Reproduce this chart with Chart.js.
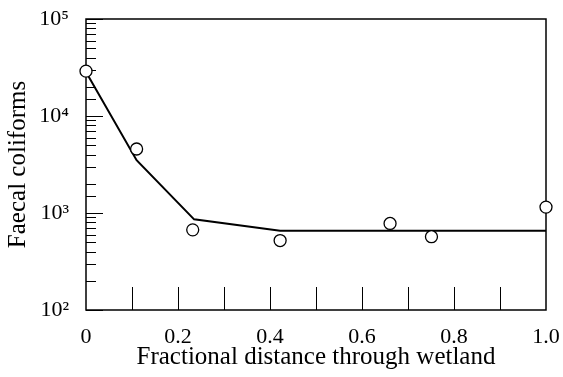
<!DOCTYPE html>
<html>
<head>
<meta charset="utf-8">
<script src="https://cdn.jsdelivr.net/npm/chart.js@4"></script>
<style>
  body { margin: 0; background: #fff; }
  #wrap { width: 563px; height: 377px; position: relative; }
</style>
</head>
<body>
<div id="wrap"><canvas id="wetland-chart"></canvas></div>
<script>
/* ============================================= */
/*                   Data                        */
/* ============================================= */
const distance = [0, 0.11, 0.232, 0.422, 0.661, 0.751, 1.0];
const coliforms = [29000, 4570, 670, 520, 780, 570, 1150];

const fitDistance = [0, 0.11, 0.235, 0.422, 1.0];
const fitColiforms = [28500, 3500, 860, 655, 655];

const xLabels = ["0", "0.2", "0.4", "0.6", "0.8", "1.0"];
const supers = { 2: "\u00B2", 3: "\u00B3", 4: "\u2074", 5: "\u2075" };

const serif = "'Liberation Serif', 'DejaVu Serif', serif";

/* ============================================= */
/*          Inward ticks + box frame             */
/* ============================================= */
const frameTicks = {
  id: "frameTicks",
  beforeDatasetsDraw(chart) {
    const { ctx, chartArea: a, scales } = chart;
    ctx.save();
    ctx.strokeStyle = "#000";
    ctx.lineWidth = 1.5;
    ctx.strokeRect(a.left, a.top, a.right - a.left, a.bottom - a.top);
    ctx.lineWidth = 1;
    ctx.beginPath();
    scales.x.ticks.forEach((t) => {
      if (t.value > 0.001 && t.value < 0.999) {
        const px = Math.round(scales.x.getPixelForValue(t.value)) + 0.5;
        ctx.moveTo(px, a.bottom);
        ctx.lineTo(px, a.bottom - 23);
      }
    });
    scales.y.ticks.forEach((t) => {
      const lg = Math.log10(t.value);
      const major = Math.abs(lg - Math.round(lg)) < 1e-6;
      const py = Math.round(scales.y.getPixelForValue(t.value)) + 0.5;
      ctx.moveTo(a.left, py);
      ctx.lineTo(a.left + (major ? 17 : 10), py);
    });
    ctx.stroke();
    ctx.restore();
  },
};

/* ============================================= */
/*                   Chart                       */
/* ============================================= */
const wetlandChart = new Chart(document.querySelector("#wetland-chart"), {
  type: "scatter",
  data: {
    datasets: [
      {
        label: "Observed",
        data: distance.map((d, i) => ({ x: d, y: coliforms[i] })),
        pointStyle: "circle",
        pointRadius: 6,
        pointBorderWidth: 1.3,
        pointBorderColor: "#000",
        pointBackgroundColor: "#fff",
        showLine: false,
        clip: false,
        order: 0,
      },
      {
        label: "Fit",
        data: fitDistance.map((d, i) => ({ x: d, y: fitColiforms[i] })),
        showLine: true,
        borderColor: "#000",
        borderWidth: 2,
        pointRadius: 0,
        tension: 0,
        clip: false,
        order: 1,
      },
    ],
  },
  options: {
    responsive: true,
    maintainAspectRatio: false,
    animation: false,
    layout: { padding: { left: 0, right: 17, top: 19, bottom: 0 } },
    plugins: {
      legend: { display: false },
      tooltip: { enabled: false },
    },
    scales: {
      x: {
        type: "linear",
        min: 0,
        max: 1,
        grid: { display: false },
        border: { display: false },
        afterFit: (scale) => {
          scale.height = 67;
          scale.paddingLeft = 0;
          scale.paddingRight = 0;
        },
        ticks: {
          stepSize: 0.1,
          autoSkip: false,
          maxRotation: 0,
          padding: 6,
          color: "#000",
          font: { family: serif, size: 22 },
          callback: (value) => {
            const n = Math.round(value * 10);
            return n % 2 === 0 ? xLabels[n / 2] : "";
          },
        },
        title: {
          display: true,
          text: "Fractional distance through wetland",
          color: "#000",
          font: { family: serif, size: 25 },
          padding: { top: 0, bottom: 5 },
        },
      },
      y: {
        type: "logarithmic",
        min: 100,
        max: 100000,
        grid: { display: false },
        border: { display: false },
        afterFit: (scale) => {
          scale.width = 86;
          scale.paddingTop = 0;
          scale.paddingBottom = 0;
        },
        ticks: {
          autoSkip: false,
          padding: 9,
          color: "#000",
          font: { family: serif, size: 22 },
          callback: (value) => {
            const lg = Math.log10(value);
            if (Math.abs(lg - Math.round(lg)) < 1e-6) {
              return "10" + supers[Math.round(lg)];
            }
            return "";
          },
        },
        title: {
          display: true,
          text: "Faecal coliforms",
          color: "#000",
          font: { family: serif, size: 25 },
          padding: { top: 3, bottom: 0 },
        },
      },
    },
  },
  plugins: [frameTicks],
});
</script>
</body>
</html>
